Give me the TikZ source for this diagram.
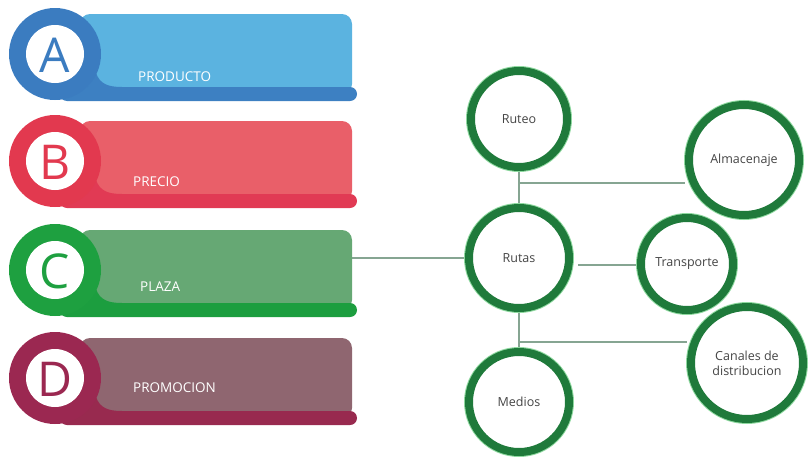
\documentclass[tikz,border=0pt]{standalone}
\usepackage{fontspec}
\setmainfont{Open Sans}
\usetikzlibrary{backgrounds}
\definecolor{aring}{HTML}{3B7CC0}
\definecolor{alight}{HTML}{5BB3E0}
\definecolor{astrip}{HTML}{3D80C2}
\definecolor{bring}{HTML}{E2394F}
\definecolor{blight}{HTML}{E95F69}
\definecolor{bstrip}{HTML}{E13A54}
\definecolor{cring}{HTML}{1EA040}
\definecolor{clight}{HTML}{66A874}
\definecolor{cstrip}{HTML}{1C9E3F}
\definecolor{dring}{HTML}{9B2851}
\definecolor{dlight}{HTML}{8F6670}
\definecolor{dstrip}{HTML}{982A4F}
\definecolor{nodegreen}{HTML}{1F7A3B}
\definecolor{glowgreen}{HTML}{8FD9A0}
\definecolor{linkcol}{HTML}{86A592}
\definecolor{nodetext}{HTML}{454545}
\tikzset{
  letter/.style={font=\fontsize{48}{48}\selectfont, inner sep=0pt},
  bantext/.style={font=\fontsize{13.5}{14}\selectfont, text=white, inner sep=0pt, anchor=west},
  netnode/.style={circle, draw=nodegreen, line width=8pt, fill=white,
    preaction={draw=glowgreen, line width=10pt},
    font=\fontsize{12.5}{15}\selectfont, text=nodetext, align=center, inner sep=0pt},
  link/.style={draw=linkcol, line width=2pt}
}
\newcommand\mybanner[9]{%
  \fill[#3, rounded corners=10pt] (80,#1-40) rectangle (352,#1+40);
  \fill[#4, rounded corners=7pt] (60,#1+33) rectangle (357,#1+47);
  \fill[#4] (96,#1+19) .. controls (100,#1+30) and (108,#1+33) .. (122,#1+33) -- (80,#1+33) -- (80,#1+10) -- cycle;
  \fill[#2] (55,#1) circle[radius=46];
  \fill[white] (55,#1) circle[radius=29];
  \node[letter, text=#2] (#7L) at (55,#1+1) {#5};
  \node[bantext] (#7T) at (#8,#9) {#6};
}
\begin{document}
\begin{tikzpicture}[x=1pt,y=-1pt]
\useasboundingbox (0,0) rectangle (812,458);
\mybanner{54}{aring}{alight}{astrip}{A}{PRODUCTO}{ban1}{138}{77}
\mybanner{161}{bring}{blight}{bstrip}{B}{PRECIO}{ban2}{133}{182}
\mybanner{270}{cring}{clight}{cstrip}{C}{PLAZA}{ban3}{140}{287}
\mybanner{378}{dring}{dlight}{dstrip}{D}{PROMOCION}{ban4}{133}{388}
\coordinate (plazaR) at (352,258);

\node[netnode, minimum size=96pt] (ruteo) at (519,119) {Ruteo};
\node[netnode, minimum size=110pt] (alm) at (744,160) {Almacenaje};
\node[netnode, minimum size=100pt] (rutas) at (519,258) {Rutas};
\node[netnode, minimum size=92pt] (trans) at (687,264) {Transporte};
\node[netnode, minimum size=112pt] (canal) at (747,363) {Canales de\\distribucion};
\node[netnode, minimum size=100pt] (medios) at (519,402) {Medios};

\coordinate (j1) at (519,183);
\coordinate (j2) at (519,342);
\coordinate (t0) at (578,265);

\begin{scope}[on background layer]
\draw[link] (plazaR) -- (plazaR -| rutas.west);
\draw[link] (ruteo.south) -- (rutas.north);
\draw[link] (j1) -- (j1 -| alm.west);
\draw[link] (t0) -- (t0 -| trans.west);
\draw[link] (rutas.south) -- (medios.north);
\draw[link] (j2) -- (j2 -| canal.west);
\end{scope}
\end{tikzpicture}
\end{document}
